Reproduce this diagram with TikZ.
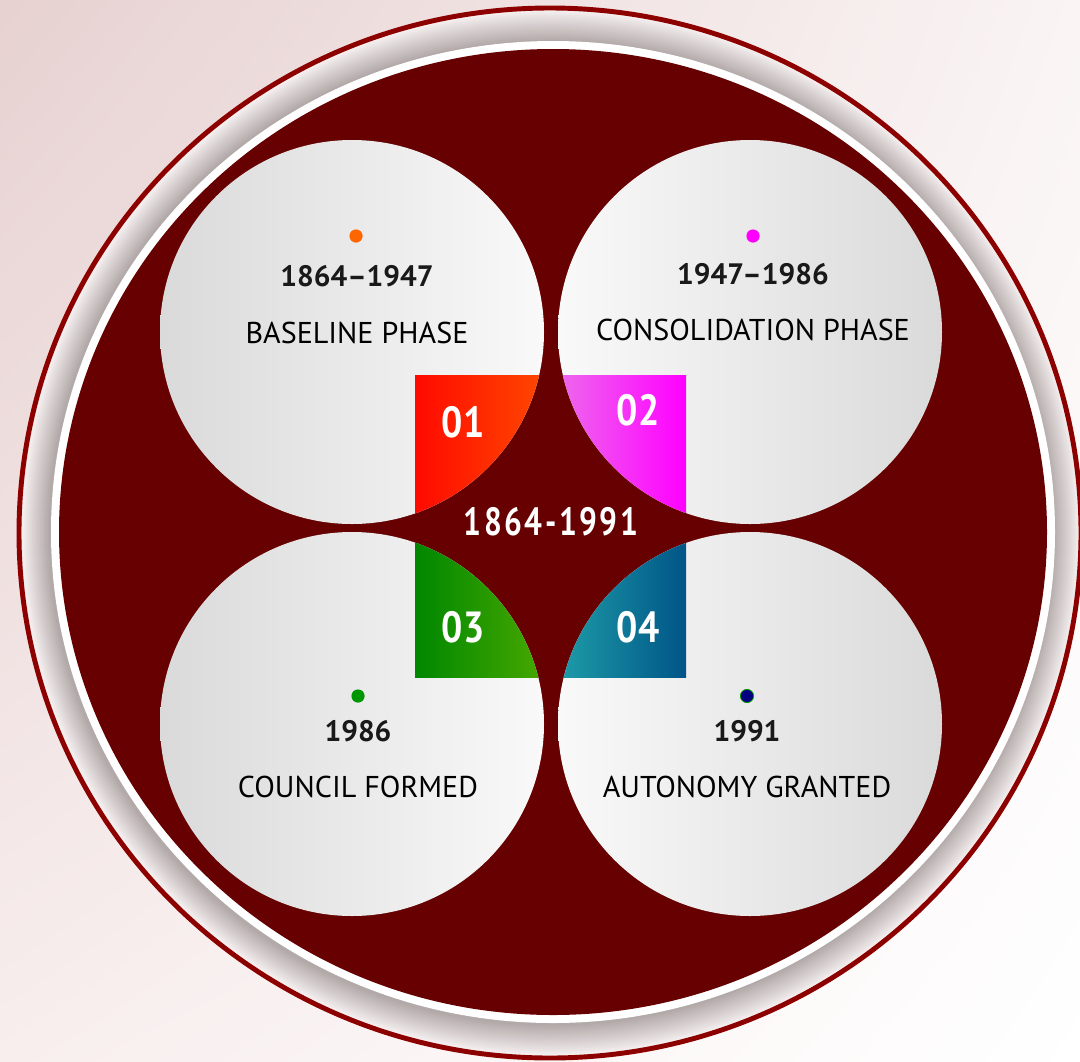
\documentclass[tikz,border=0pt]{standalone}
\usepackage{fontspec}
\setmainfont{PT Sans}
\usepackage{xcolor}
\usepackage{tikz}
\usetikzlibrary{positioning, shadings}
\definecolor{BgPink}{RGB}{231,209,209}
\definecolor{BgPale}{RGB}{250,244,244}
\definecolor{BgLow}{RGB}{248,238,238}
\definecolor{DiscRed}{RGB}{103,0,0}
\definecolor{RimRed}{RGB}{140,0,0}
\definecolor{ShadowGray}{RGB}{172,162,162}
\definecolor{ShadowPale}{RGB}{244,238,238}
\definecolor{PhaseDark}{RGB}{218,218,218}
\definecolor{PhaseLight}{RGB}{249,249,249}
\definecolor{QuadRed}{RGB}{255,10,0}
\definecolor{QuadOrange}{RGB}{255,75,0}
\definecolor{QuadPink}{RGB}{236,110,236}
\definecolor{QuadMagenta}{RGB}{255,0,255}
\definecolor{QuadGreen}{RGB}{0,135,0}
\definecolor{QuadLime}{RGB}{75,170,0}
\definecolor{QuadTeal}{RGB}{32,160,170}
\definecolor{QuadBlue}{RGB}{0,85,135}
\definecolor{DotOrange}{RGB}{255,102,0}
\definecolor{DotMagenta}{RGB}{255,0,255}
\definecolor{DotGreen}{RGB}{0,150,0}
\definecolor{DotNavy}{RGB}{0,0,128}
\newcommand\phasefont{\fontsize{21.4}{25}\selectfont}
\newcommand\yearfont{\bfseries\fontsize{21}{25}\selectfont}
\newcommand\quadfont{\bfseries\fontsize{31}{36}\selectfont}
\newcommand\spanfont{\bfseries\fontsize{28}{32}\selectfont\addfontfeature{LetterSpace=8}}
\tikzset{
    leftdisc/.style={left color=PhaseDark, right color=PhaseLight},
    rightdisc/.style={left color=PhaseLight, right color=PhaseDark},
    dotmark/.style={circle, fill=#1, inner sep=0pt, minimum size=0.33cm},
    yeartext/.style={font=\yearfont, text=black!90, inner sep=0pt},
    phasetext/.style={font=\phasefont, text=black, inner sep=0pt},
    quadtext/.style={font=\quadfont, text=white, inner sep=0pt, xscale=0.86, transform shape},
    spantext/.style={font=\spanfont, text=white, inner sep=0pt, xscale=0.8, transform shape}
}

\begin{document}
\begin{tikzpicture}[x=0.025cm, y=-0.025cm]

\useasboundingbox (0,0) rectangle (1080,1061);
\shade[upper left=BgPink, upper right=BgPale, lower left=BgLow, lower right=white] (0,0) rectangle (1080,1061);
\clip (0,0) rectangle (1080,1061);

% Rim and its shadow
\foreach \k in {0,...,13}
    \fill[ShadowGray!\the\numexpr\k*7\relax!ShadowPale] (551,533) ellipse ({529-2*\k} and {523-2.3*\k});
\draw[RimRed, line width=3.5pt] (550,533) ellipse (531 and 525);

% Disc
\fill[white] (553,532) ellipse (502 and 491);
\fill[DiscRed] (553,532) ellipse (494 and 483);

% Phase discs
\shade[leftdisc] (352,332) circle (192);
\shade[rightdisc] (750,332) circle (192);
\shade[leftdisc] (352,724) circle (192);
\shade[rightdisc] (750,724) circle (192);

% Centre square, seen through the discs only
\begin{scope}
\clip (352,332) circle (192) (750,332) circle (192) (352,724) circle (192) (750,724) circle (192);
\shade[left color=QuadRed, right color=QuadOrange] (415,375) rectangle (551,526);
\shade[left color=QuadPink, right color=QuadMagenta] (551,375) rectangle (686,526);
\shade[left color=QuadGreen, right color=QuadLime] (415,526) rectangle (551,677);
\shade[left color=QuadTeal, right color=QuadBlue] (551,526) rectangle (686,677);
\end{scope}

\node[quadtext] (q01) at (463,422) {01};
\node[quadtext] (q02) at (638,410) {02};
\node[quadtext] (q03) at (463,627) {03};
\node[quadtext] (q04) at (638,627) {04};
\node[spantext] (span) at (551,522) {1864-1991};

% Baseline
\node[dotmark=DotOrange] (d1) at (356,236) {};
\node[yeartext] (y1) at (357,276) {1864–1947};
\node[phasetext] (p1) at (357,333) {BASELINE PHASE};

% Consolidation
\node[dotmark=DotMagenta] (d2) at (753,236) {};
\node[yeartext] (y2) at (753,274) {1947–1986};
\node[phasetext] (p2) at (753,330) {CONSOLIDATION PHASE};

% Council
\node[dotmark=DotGreen] (d3) at (358,696) {};
\node[yeartext] (y3) at (358,731) {1986};
\node[phasetext] (p3) at (358,787) {COUNCIL FORMED};

% Autonomy
\node[dotmark=DotNavy, draw=DotGreen, line width=0.6pt] (d4) at (747,696) {};
\node[yeartext] (y4) at (747,731) {1991};
\node[phasetext] (p4) at (747,787) {AUTONOMY GRANTED};

\end{tikzpicture}
\end{document}
